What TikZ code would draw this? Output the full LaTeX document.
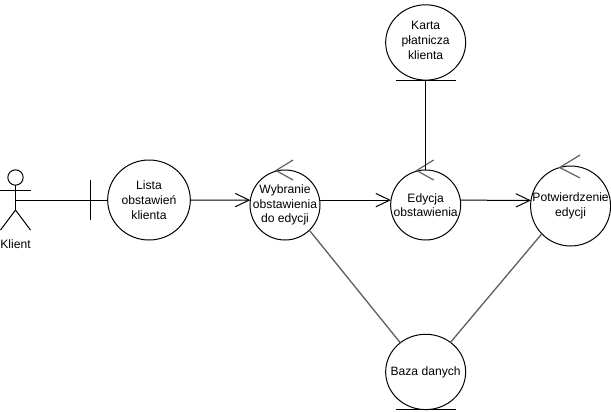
\documentclass[tikz,border=0pt]{standalone}
\usepackage{fontspec}
\setmainfont{Liberation Sans}
\usetikzlibrary{arrows.meta,shapes.geometric}

\tikzset{
	obj/.style={draw, ellipse, inner sep=0pt, outer sep=0pt},
	opis/.style={inner sep=0pt, align=center, font=\fontsize{9.1}{11}\selectfont},
	lista/.style={obj, minimum width=62pt, minimum height=60pt},
	ctrl/.style={obj, minimum width=52.5pt, minimum height=52.5pt},
	ctrlbig/.style={obj, minimum width=60pt, minimum height=60pt},
	entity/.style={obj, minimum width=60pt, minimum height=56.5pt},
	grayline/.style={draw=black!62, line width=1pt},
	ctrlmark/.style={draw=black!62, line width=.9pt}
}

\begin{document}
\begin{tikzpicture}[x=.75pt,y=-.75pt,line width=.75pt,>={Straight Barb[length=10.5pt,width=10pt]}]
	\useasboundingbox (0,0) rectangle (611,411);

	\node[lista, label={[opis]center:Lista\\obstawień\\klienta}] (lista) at (149,200) {};
	\node[ctrl, label={[opis]center:Wybranie\\obstawienia\\do edycji}] (wybranie) [right of=lista, node distance=102pt, yshift=-3.75pt] {};
	\node[ctrl, label={[opis]center:Edycja\\obstawienia}] (edycja) [right of=wybranie, node distance=105.5pt] {};
	\node[ctrlbig, label={[opis]center:Potwierdzenie\\edycji}] (potw) [right of=edycja, node distance=108.7pt, yshift=-.75pt] {};
	\node[entity, label={[opis, yshift=1.5pt]center:Karta\\płatnicza\\klienta}] (karta) [above of=edycja, node distance=121.9pt] {};
	\node[entity, label={[opis]center:Baza danych}] (baza) [below of=edycja, node distance=125.2pt] {};

	% aktor
	\node[draw, circle, inner sep=0pt, outer sep=0pt, minimum size=11.5pt] (glowa) at (15.5,177.5) {};
	\coordinate (klient) at (15.5,200);
	\coordinate (biodra) at (15.5,210);
	\draw (glowa.south) -- (biodra);
	\draw (0.5,190) -- (30.5,190);
	\draw (0.5,230) -- (biodra) -- (30.5,230);
	\node[opis] (klientopis) at (15.5,244) {Klient};

	% granica i encje
	\coordinate (granica) at (90,200);
	\draw (klient) -- (lista.west);
	\draw (granica) ++(0,-20) -- ++(0,40);
	\draw (karta.south) ++(-30,0) -- ++(60,0);
	\draw (baza.south) ++(-30,0) -- ++(60,0);

	% znaczniki kontrolerow
	\draw[ctrlmark] (wybranie.north) ++(8,-10) -- ++(-17,10.5) -- ++(17,9.5);
	\draw[ctrlmark] (edycja.north) ++(8,-10) -- ++(-17,10.5) -- ++(17,9.5);
	\draw[ctrlmark] (potw.north) ++(9.5,-11) -- ++(-20.5,12.5) -- ++(20.5,10.5);

	\draw[->] (lista.east) -- (wybranie.172);
	\draw[->] (wybranie.8) -- (edycja.172);
	\draw[->] (edycja.8) -- (potw.172.8);
	\draw (karta.south) -- (edycja.north);
	\draw[grayline] (wybranie.-46) -- (baza.131);
	\draw[grayline] (potw.-136) -- (baza.50);
\end{tikzpicture}
\end{document}
